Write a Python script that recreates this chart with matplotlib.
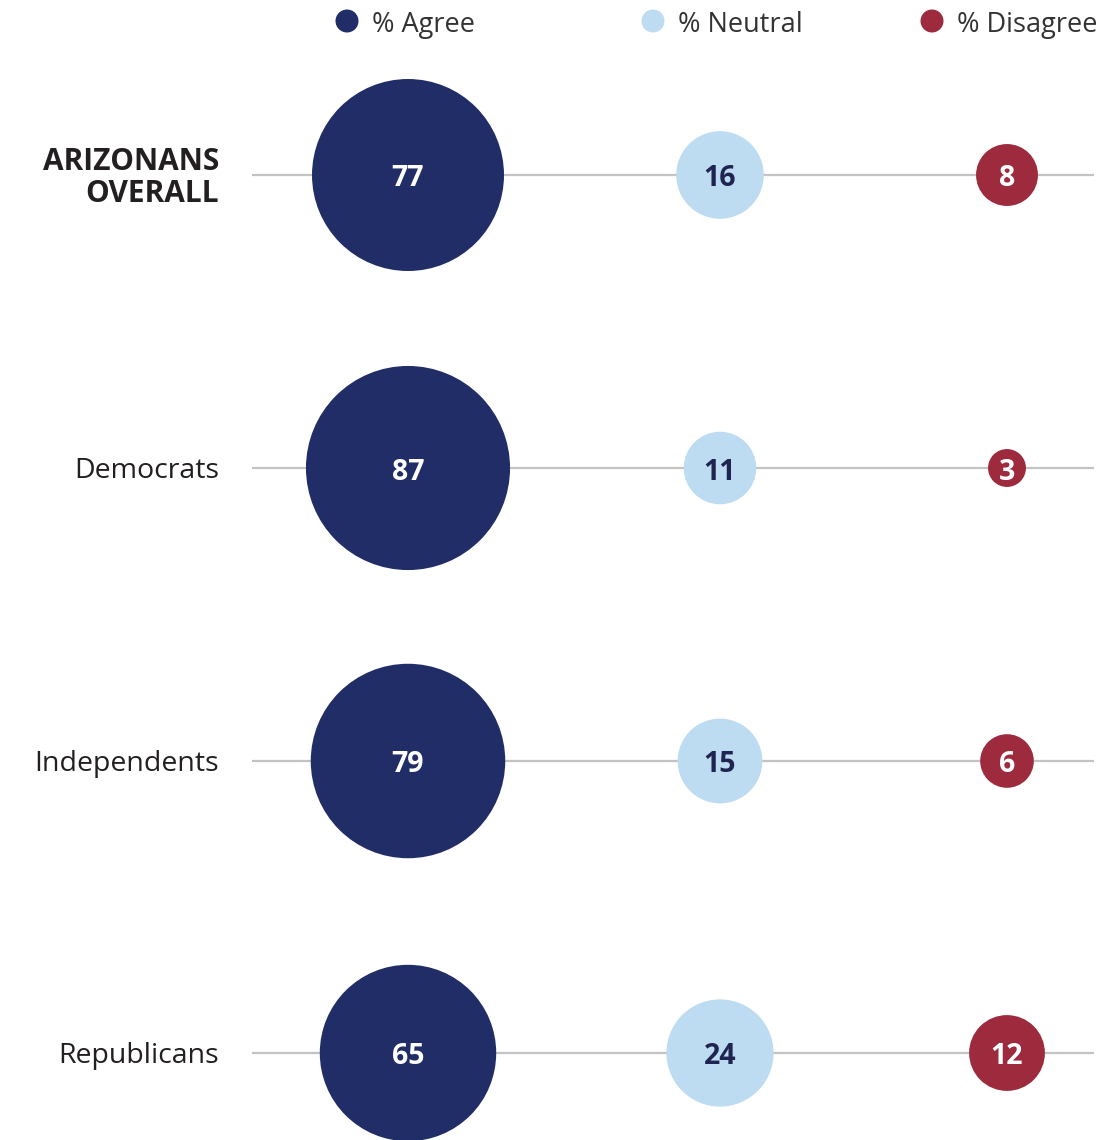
import matplotlib
matplotlib.use("Agg")
import matplotlib.pyplot as plt
from matplotlib.patches import Circle
import numpy as np

# Data
groups = ["ARIZONANS\nOVERALL", "Democrats", "Independents", "Republicans"]
series = ["% Agree", "% Neutral", "% Disagree"]
agree = [77, 87, 79, 65]
neutral = [16, 11, 15, 24]
disagree = [8, 3, 6, 12]

colors = ["#212D67", "#BEDCF1", "#9D2A3D"]
text_colors = ["white", "#1f2550", "white"]

plt.rcParams["font.family"] = ["Open Sans", "DejaVu Sans"]

W, H = 1118, 1140
fig = plt.figure(figsize=(W / 100, H / 100), dpi=100)
ax = fig.add_axes([0, 0, 1, 1])
ax.set_xlim(0, W)
ax.set_ylim(H, 0)
ax.set_aspect("equal")
ax.axis("off")

# layout (pixel units)
row_y = [175, 468, 761, 1053]
col_x = [408, 720, 1007]
scale = 96 / np.sqrt(77)  # radius per sqrt(value)

values = [agree, neutral, disagree]

for i, g in enumerate(groups):
    y = row_y[i]
    ax.plot([252, 1094], [y, y], color="#c3c3c5", lw=1.6, zorder=1,
            solid_capstyle="butt")
    for j in range(3):
        v = values[j][i]
        r = scale * np.sqrt(v)
        ax.add_patch(Circle((col_x[j], y), r, color=colors[j], zorder=2, lw=0))
        ax.text(col_x[j], y + 4, str(v), ha="center", va="center",
                color=text_colors[j], fontsize=20.5, fontweight="bold", zorder=3)
    if i == 0:
        ax.text(219, y + 3, g, ha="right", va="center", fontsize=21.5,
                fontweight="bold", color="#231f20", linespacing=1.1)
    else:
        ax.text(219, y + 3, g, ha="right", va="center", fontsize=20.5,
                color="#231f20")

# Legend
leg_x = [347, 653, 932]
for j, s in enumerate(series):
    ax.add_patch(Circle((leg_x[j], 21), 11.5, color=colors[j], lw=0))
    ax.text(leg_x[j] + 25, 25, s, ha="left", va="center", fontsize=19.5,
            color="#333333")

fig.savefig("out.png", dpi=100)
